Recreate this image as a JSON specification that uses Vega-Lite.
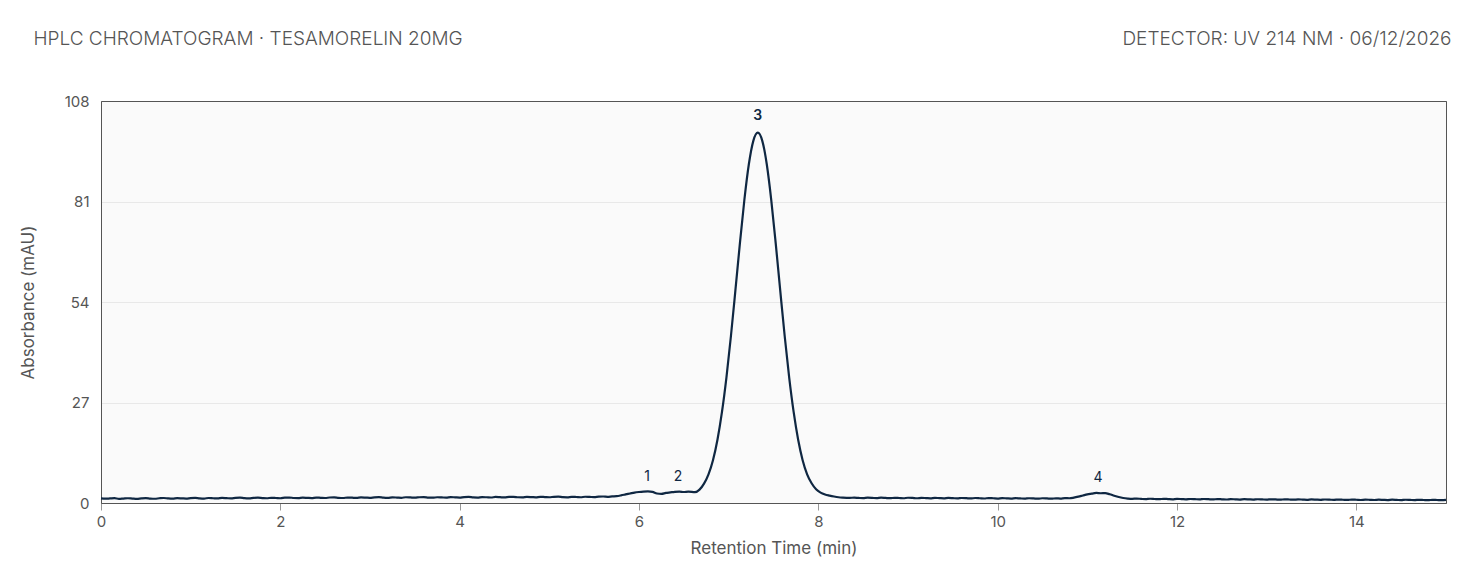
{
  "$schema": "https://vega.github.io/schema/vega-lite/v6.json",
  "width": 1345,
  "height": 402,
  "autosize": {"type": "none"},
  "padding": {"left": 101, "top": 101, "right": 38, "bottom": 68},
  "background": "white",
  "config": {"view": {"fill": "#fafafa", "stroke": "#555555", "strokeWidth": 1}, "font": "Inter"},
  "datasets": {
    "trace": [
      {"t":0.00,"v":1.25},{"t":0.05,"v":1.15},{"t":0.10,"v":1.22},{"t":0.15,"v":1.30},{"t":0.20,"v":1.12},{"t":0.25,"v":1.20},{"t":0.30,"v":1.28},{"t":0.35,"v":1.18},{"t":0.40,"v":1.10},{"t":0.45,"v":1.24},
      {"t":0.50,"v":1.32},{"t":0.55,"v":1.20},{"t":0.60,"v":1.14},{"t":0.65,"v":1.27},{"t":0.70,"v":1.35},{"t":0.75,"v":1.22},{"t":0.80,"v":1.16},{"t":0.85,"v":1.30},{"t":0.90,"v":1.25},{"t":0.95,"v":1.18},
      {"t":1.00,"v":1.33},{"t":1.05,"v":1.40},{"t":1.10,"v":1.26},{"t":1.15,"v":1.20},{"t":1.20,"v":1.34},{"t":1.25,"v":1.28},{"t":1.30,"v":1.22},{"t":1.35,"v":1.36},{"t":1.40,"v":1.30},{"t":1.45,"v":1.24},
      {"t":1.50,"v":1.38},{"t":1.55,"v":1.44},{"t":1.60,"v":1.30},{"t":1.65,"v":1.25},{"t":1.70,"v":1.36},{"t":1.75,"v":1.42},{"t":1.80,"v":1.33},{"t":1.85,"v":1.27},{"t":1.90,"v":1.40},{"t":1.95,"v":1.35},
      {"t":2.00,"v":1.28},{"t":2.05,"v":1.42},{"t":2.10,"v":1.47},{"t":2.15,"v":1.34},{"t":2.20,"v":1.30},{"t":2.25,"v":1.43},{"t":2.30,"v":1.38},{"t":2.35,"v":1.32},{"t":2.40,"v":1.46},{"t":2.45,"v":1.40},
      {"t":2.50,"v":1.35},{"t":2.55,"v":1.48},{"t":2.60,"v":1.52},{"t":2.65,"v":1.39},{"t":2.70,"v":1.34},{"t":2.75,"v":1.47},{"t":2.80,"v":1.42},{"t":2.85,"v":1.36},{"t":2.90,"v":1.50},{"t":2.95,"v":1.45},
      {"t":3.00,"v":1.38},{"t":3.05,"v":1.52},{"t":3.10,"v":1.56},{"t":3.15,"v":1.43},{"t":3.20,"v":1.38},{"t":3.25,"v":1.50},{"t":3.30,"v":1.46},{"t":3.35,"v":1.40},{"t":3.40,"v":1.54},{"t":3.45,"v":1.49},
      {"t":3.50,"v":1.42},{"t":3.55,"v":1.55},{"t":3.60,"v":1.60},{"t":3.65,"v":1.47},{"t":3.70,"v":1.42},{"t":3.75,"v":1.55},{"t":3.80,"v":1.50},{"t":3.85,"v":1.44},{"t":3.90,"v":1.58},{"t":3.95,"v":1.52},
      {"t":4.00,"v":1.46},{"t":4.05,"v":1.60},{"t":4.10,"v":1.63},{"t":4.15,"v":1.50},{"t":4.20,"v":1.46},{"t":4.25,"v":1.58},{"t":4.30,"v":1.54},{"t":4.35,"v":1.48},{"t":4.40,"v":1.62},{"t":4.45,"v":1.56},
      {"t":4.50,"v":1.50},{"t":4.55,"v":1.63},{"t":4.60,"v":1.67},{"t":4.65,"v":1.54},{"t":4.70,"v":1.50},{"t":4.75,"v":1.62},{"t":4.80,"v":1.58},{"t":4.85,"v":1.52},{"t":4.90,"v":1.66},{"t":4.95,"v":1.60},
      {"t":5.00,"v":1.54},{"t":5.05,"v":1.66},{"t":5.10,"v":1.70},{"t":5.15,"v":1.57},{"t":5.20,"v":1.53},{"t":5.25,"v":1.65},{"t":5.30,"v":1.61},{"t":5.35,"v":1.55},{"t":5.40,"v":1.68},{"t":5.45,"v":1.63},
      {"t":5.50,"v":1.58},{"t":5.55,"v":1.70},{"t":5.60,"v":1.74},{"t":5.65,"v":1.66},{"t":5.70,"v":1.78},{"t":5.75,"v":1.85},{"t":5.80,"v":2.05},{"t":5.85,"v":2.30},{"t":5.90,"v":2.55},{"t":5.95,"v":2.80},
      {"t":6.00,"v":2.95},{"t":6.05,"v":3.05},{"t":6.10,"v":3.10},{"t":6.15,"v":3.00},{"t":6.20,"v":2.55},{"t":6.25,"v":2.45},{"t":6.30,"v":2.70},{"t":6.35,"v":2.85},{"t":6.40,"v":3.00},{"t":6.45,"v":3.05},
      {"t":6.50,"v":2.95},{"t":6.55,"v":3.05},{"t":6.625,"v":2.9},{"t":6.675,"v":3.6},{"t":6.725,"v":5.2},{"t":6.775,"v":7.7},{"t":6.825,"v":11.5},{"t":6.875,"v":17.0},{"t":6.925,"v":24.4},{"t":6.975,"v":33.7},
      {"t":7.025,"v":44.8},{"t":7.075,"v":57.1},{"t":7.125,"v":69.7},{"t":7.175,"v":81.4},{"t":7.225,"v":91.0},{"t":7.275,"v":97.3},{"t":7.325,"v":99.5},{"t":7.375,"v":97.3},{"t":7.425,"v":91.0},{"t":7.475,"v":81.4},
      {"t":7.525,"v":69.7},{"t":7.575,"v":57.1},{"t":7.625,"v":44.8},{"t":7.675,"v":33.7},{"t":7.725,"v":24.4},{"t":7.775,"v":17.0},{"t":7.825,"v":11.5},{"t":7.875,"v":7.7},{"t":7.925,"v":5.3},{"t":7.975,"v":3.7},
      {"t":8.025,"v":2.8},{"t":8.075,"v":2.3},{"t":8.125,"v":2.0},{"t":8.175,"v":1.75},{"t":8.225,"v":1.55},{"t":8.275,"v":1.45},
      {"t":8.35,"v":1.38},{"t":8.40,"v":1.45},{"t":8.45,"v":1.36},{"t":8.50,"v":1.30},{"t":8.55,"v":1.42},{"t":8.60,"v":1.38},{"t":8.65,"v":1.31},{"t":8.70,"v":1.44},{"t":8.75,"v":1.36},{"t":8.80,"v":1.29},
      {"t":8.85,"v":1.40},{"t":8.90,"v":1.35},{"t":8.95,"v":1.28},{"t":9.00,"v":1.41},{"t":9.05,"v":1.36},{"t":9.10,"v":1.27},{"t":9.15,"v":1.38},{"t":9.20,"v":1.33},{"t":9.25,"v":1.26},{"t":9.30,"v":1.39},
      {"t":9.35,"v":1.32},{"t":9.40,"v":1.25},{"t":9.45,"v":1.37},{"t":9.50,"v":1.31},{"t":9.55,"v":1.24},{"t":9.60,"v":1.35},{"t":9.65,"v":1.30},{"t":9.70,"v":1.22},{"t":9.75,"v":1.34},{"t":9.80,"v":1.28},
      {"t":9.85,"v":1.21},{"t":9.90,"v":1.33},{"t":9.95,"v":1.27},{"t":10.00,"v":1.20},{"t":10.05,"v":1.31},{"t":10.10,"v":1.25},{"t":10.15,"v":1.19},{"t":10.20,"v":1.30},{"t":10.25,"v":1.24},{"t":10.30,"v":1.17},
      {"t":10.35,"v":1.28},{"t":10.40,"v":1.23},{"t":10.45,"v":1.16},{"t":10.50,"v":1.27},{"t":10.55,"v":1.22},{"t":10.60,"v":1.15},{"t":10.65,"v":1.26},{"t":10.70,"v":1.20},{"t":10.75,"v":1.30},{"t":10.80,"v":1.28},
      {"t":10.85,"v":1.45},{"t":10.90,"v":1.70},{"t":10.95,"v":2.00},{"t":11.00,"v":2.30},{"t":11.05,"v":2.50},{"t":11.10,"v":2.70},{"t":11.15,"v":2.62},{"t":11.20,"v":2.66},{"t":11.25,"v":2.35},{"t":11.30,"v":1.95},
      {"t":11.35,"v":1.60},{"t":11.40,"v":1.35},{"t":11.45,"v":1.20},{"t":11.50,"v":1.12},{"t":11.55,"v":1.18},{"t":11.60,"v":1.10},{"t":11.65,"v":1.04},{"t":11.70,"v":1.14},{"t":11.75,"v":1.08},{"t":11.80,"v":1.02},
      {"t":11.85,"v":1.12},{"t":11.90,"v":1.06},{"t":11.95,"v":1.00},{"t":12.00,"v":1.10},{"t":12.05,"v":1.05},{"t":12.10,"v":0.99},{"t":12.15,"v":1.08},{"t":12.20,"v":1.03},{"t":12.25,"v":0.97},{"t":12.30,"v":1.07},
      {"t":12.35,"v":1.02},{"t":12.40,"v":0.96},{"t":12.45,"v":1.05},{"t":12.50,"v":1.00},{"t":12.55,"v":0.94},{"t":12.60,"v":1.04},{"t":12.65,"v":0.99},{"t":12.70,"v":0.93},{"t":12.75,"v":1.02},{"t":12.80,"v":0.98},
      {"t":12.85,"v":0.92},{"t":12.90,"v":1.01},{"t":12.95,"v":0.96},{"t":13.00,"v":0.90},{"t":13.05,"v":1.00},{"t":13.10,"v":0.95},{"t":13.15,"v":0.89},{"t":13.20,"v":0.98},{"t":13.25,"v":0.94},{"t":13.30,"v":0.88},
      {"t":13.35,"v":0.97},{"t":13.40,"v":0.92},{"t":13.45,"v":0.86},{"t":13.50,"v":0.96},{"t":13.55,"v":0.91},{"t":13.60,"v":0.85},{"t":13.65,"v":0.94},{"t":13.70,"v":0.90},{"t":13.75,"v":0.84},{"t":13.80,"v":0.93},
      {"t":13.85,"v":0.88},{"t":13.90,"v":0.82},{"t":13.95,"v":0.92},{"t":14.00,"v":0.87},{"t":14.05,"v":0.81},{"t":14.10,"v":0.90},{"t":14.15,"v":0.86},{"t":14.20,"v":0.80},{"t":14.25,"v":0.89},{"t":14.30,"v":0.84},
      {"t":14.35,"v":0.79},{"t":14.40,"v":0.88},{"t":14.45,"v":0.83},{"t":14.50,"v":0.78},{"t":14.55,"v":0.87},{"t":14.60,"v":0.82},{"t":14.65,"v":0.77},{"t":14.70,"v":0.86},{"t":14.75,"v":0.81},{"t":14.80,"v":0.76},
      {"t":14.85,"v":0.85},{"t":14.90,"v":0.80},{"t":14.95,"v":0.75},{"t":15.00,"v":0.84}
    ],
    "peaks": [
      {"t": 6.09, "v": 3.1, "label": "1"},
      {"t": 6.435, "v": 3.05, "label": "2"},
      {"t": 7.324, "v": 99.5, "label": "3"},
      {"t": 11.12, "v": 2.7, "label": "4"}
    ]
  },
  "layer": [
    {
      "data": {"name": "trace"},
      "mark": {"type": "line", "color": "#0f2742", "strokeWidth": 2.2, "interpolate": "monotone"},
      "encoding": {
        "x": {"field": "t", "type": "quantitative", "scale": {"domain": [0, 15], "nice": false, "zero": false},
          "axis": {"orient": "bottom", "values": [0, 2, 4, 6, 8, 10, 12, 14], "labelFlush": false, "grid": false, "domain": true, "domainColor": "#555555", "tickSize": 7, "tickColor": "#999999", "labelFontSize": 15, "labelColor": "#555555", "labelPadding": 4, "labelFont": "Inter", "title": "Retention Time (min)", "titleFont": "Inter", "titleFontSize": 17, "titleFontWeight": "normal", "titleColor": "#555555", "titlePadding": 11}},
        "y": {"field": "v", "type": "quantitative", "scale": {"domain": [0, 108], "nice": false},
          "axis": {"orient": "left", "values": [0, 27, 54, 81, 108], "labelFlush": false, "grid": true, "gridColor": "#e8e8e8", "ticks": false, "domain": true, "domainColor": "#555555", "labelPadding": 12, "labelFontSize": 15, "labelColor": "#555555", "labelFont": "Inter", "title": "Absorbance (mAU)", "titleFont": "Inter", "titleFontSize": 17, "titleFontWeight": "normal", "titleColor": "#555555", "titlePadding": 27}}
      }
    },
    {
      "data": {"name": "peaks"},
      "transform": [{"filter": "datum.label != '3'"}],
      "mark": {"type": "text", "baseline": "alphabetic", "dy": -10.5, "fontSize": 14, "font": "Inter", "color": "#0f2742"},
      "encoding": {
        "x": {"field": "t", "type": "quantitative",
          "axis": {"orient": "top", "labels": false, "ticks": false, "domain": true, "domainColor": "#555555", "grid": false, "title": "DETECTOR: UV 214 NM · 06/12/2026", "titleAnchor": "end", "titleAlign": "right", "titleX": 1350, "titleY": -57, "titleBaseline": "alphabetic", "titleFont": "Inter", "titleFontSize": 19, "titleFontWeight": 300, "titleColor": "#555555"}},
        "y": {"field": "v", "type": "quantitative", "axis": null},
        "text": {"field": "label"}
      }
    },
    {
      "data": {"name": "peaks"},
      "transform": [{"filter": "datum.label == '3'"}],
      "mark": {"type": "text", "baseline": "alphabetic", "dy": -12.5, "fontSize": 14, "font": "Inter", "fontWeight": 600, "color": "#0f2742"},
      "encoding": {
        "x": {"field": "t", "type": "quantitative",
          "axis": {"orient": "top", "labels": false, "ticks": false, "domain": false, "grid": false, "title": "HPLC CHROMATOGRAM · TESAMORELIN 20MG", "titleAnchor": "start", "titleAlign": "left", "titleX": -68, "titleY": -57, "titleBaseline": "alphabetic", "titleFont": "Inter", "titleFontSize": 19, "titleFontWeight": 300, "titleColor": "#555555"}},
        "y": {"field": "v", "type": "quantitative",
          "axis": {"orient": "right", "labels": false, "ticks": false, "grid": false, "domain": true, "domainColor": "#555555", "title": null}},
        "text": {"field": "label"}
      }
    }
  ],
  "resolve": {"axis": {"x": "independent", "y": "independent"}}
}
